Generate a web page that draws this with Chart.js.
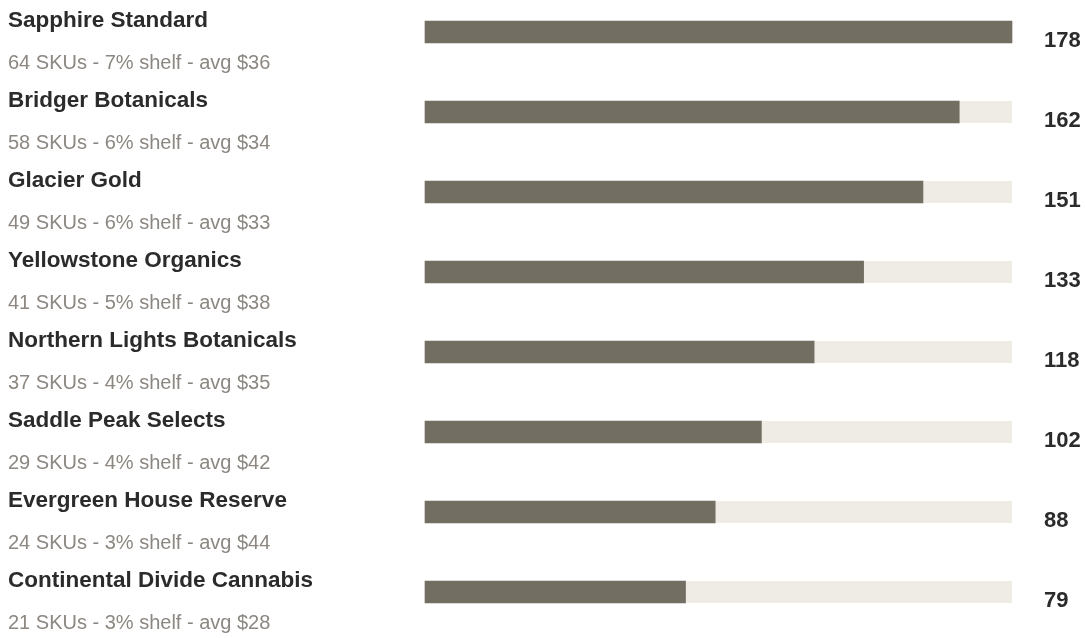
<!DOCTYPE html>
<html>
<head>
<meta charset="utf-8">
<script src="https://cdn.jsdelivr.net/npm/chart.js@4/dist/chart.umd.min.js"></script>
<style>
  html, body { margin: 0; padding: 0; background: #fff; }
  #wrap { width: 1085px; height: 638px; position: relative; }
</style>
</head>
<body>
<div id="wrap"><canvas id="brandChart"></canvas></div>
<script>
// brands, top to bottom
const brands = [
    'Sapphire Standard',
    'Bridger Botanicals',
    'Glacier Gold',
    'Yellowstone Organics',
    'Northern Lights Botanicals',
    'Saddle Peak Selects',
    'Evergreen House Reserve',
    'Continental Divide Cannabis'
];
const units = [178, 162, 151, 133, 118, 102, 88, 79];
const skuCounts = [64, 58, 49, 41, 37, 29, 24, 21];
const shelfShare = [7, 6, 6, 5, 4, 4, 3, 3];
const avgPrice = [36, 34, 33, 38, 35, 42, 44, 28];
const axisMax = 178;

const barColor = '#736e62';
const trackColor = '#efece6';

// light track behind each bar, full width of the x scale
const trackPlugin = {
    id: 'track',
    beforeDatasetsDraw(chart) {
        const ctx = chart.ctx;
        const x = chart.scales.x;
        const meta = chart.getDatasetMeta(0);
        ctx.save();
        ctx.fillStyle = trackColor;
        meta.data.forEach(bar => {
            ctx.fillRect(x.left, bar.y - bar.height / 2, x.right - x.left, bar.height);
        });
        ctx.restore();
    }
};

// names + detail lines on the left, totals on the right
const labelsPlugin = {
    id: 'rowLabels',
    afterDraw(chart) {
        const ctx = chart.ctx;
        const y = chart.scales.y;
        const x = chart.scales.x;
        ctx.save();
        ctx.textAlign = 'left';
        ctx.textBaseline = 'alphabetic';
        brands.forEach((name, i) => {
            const cy = y.getPixelForValue(i);
            ctx.fillStyle = '#2b2b2b';
            ctx.font = 'bold 22.5px "Liberation Sans", Arial, sans-serif';
            ctx.fillText(name, 8, cy - 5.5);
            ctx.fillStyle = '#8c8780';
            ctx.font = '20px "Liberation Sans", Arial, sans-serif';
            ctx.fillText(skuCounts[i] + ' SKUs - ' + shelfShare[i] + '% shelf - avg $' + avgPrice[i], 8, cy + 37);
            ctx.fillStyle = '#2b2b2b';
            ctx.font = 'bold 22px "Liberation Sans", Arial, sans-serif';
            ctx.fillText(String(units[i]), x.right + 32, cy + 14.5);
        });
        ctx.restore();
    }
};

new Chart(document.getElementById('brandChart'), {
    type: 'bar',
    data: {
        labels: brands,
        datasets: [{
            data: units,
            backgroundColor: barColor,
            barThickness: 22,
            clip: false
        }]
    },
    options: {
        indexAxis: 'y',
        responsive: true,
        maintainAspectRatio: false,
        animation: false,
        layout: { padding: { left: 425, right: 73, top: 32, bottom: 46 } },
        plugins: {
            legend: { display: false },
            tooltip: { enabled: false }
        },
        scales: {
            x: { display: false, min: 0, max: axisMax },
            y: { display: false, offset: false }
        }
    },
    plugins: [trackPlugin, labelsPlugin]
});
</script>
</body>
</html>
